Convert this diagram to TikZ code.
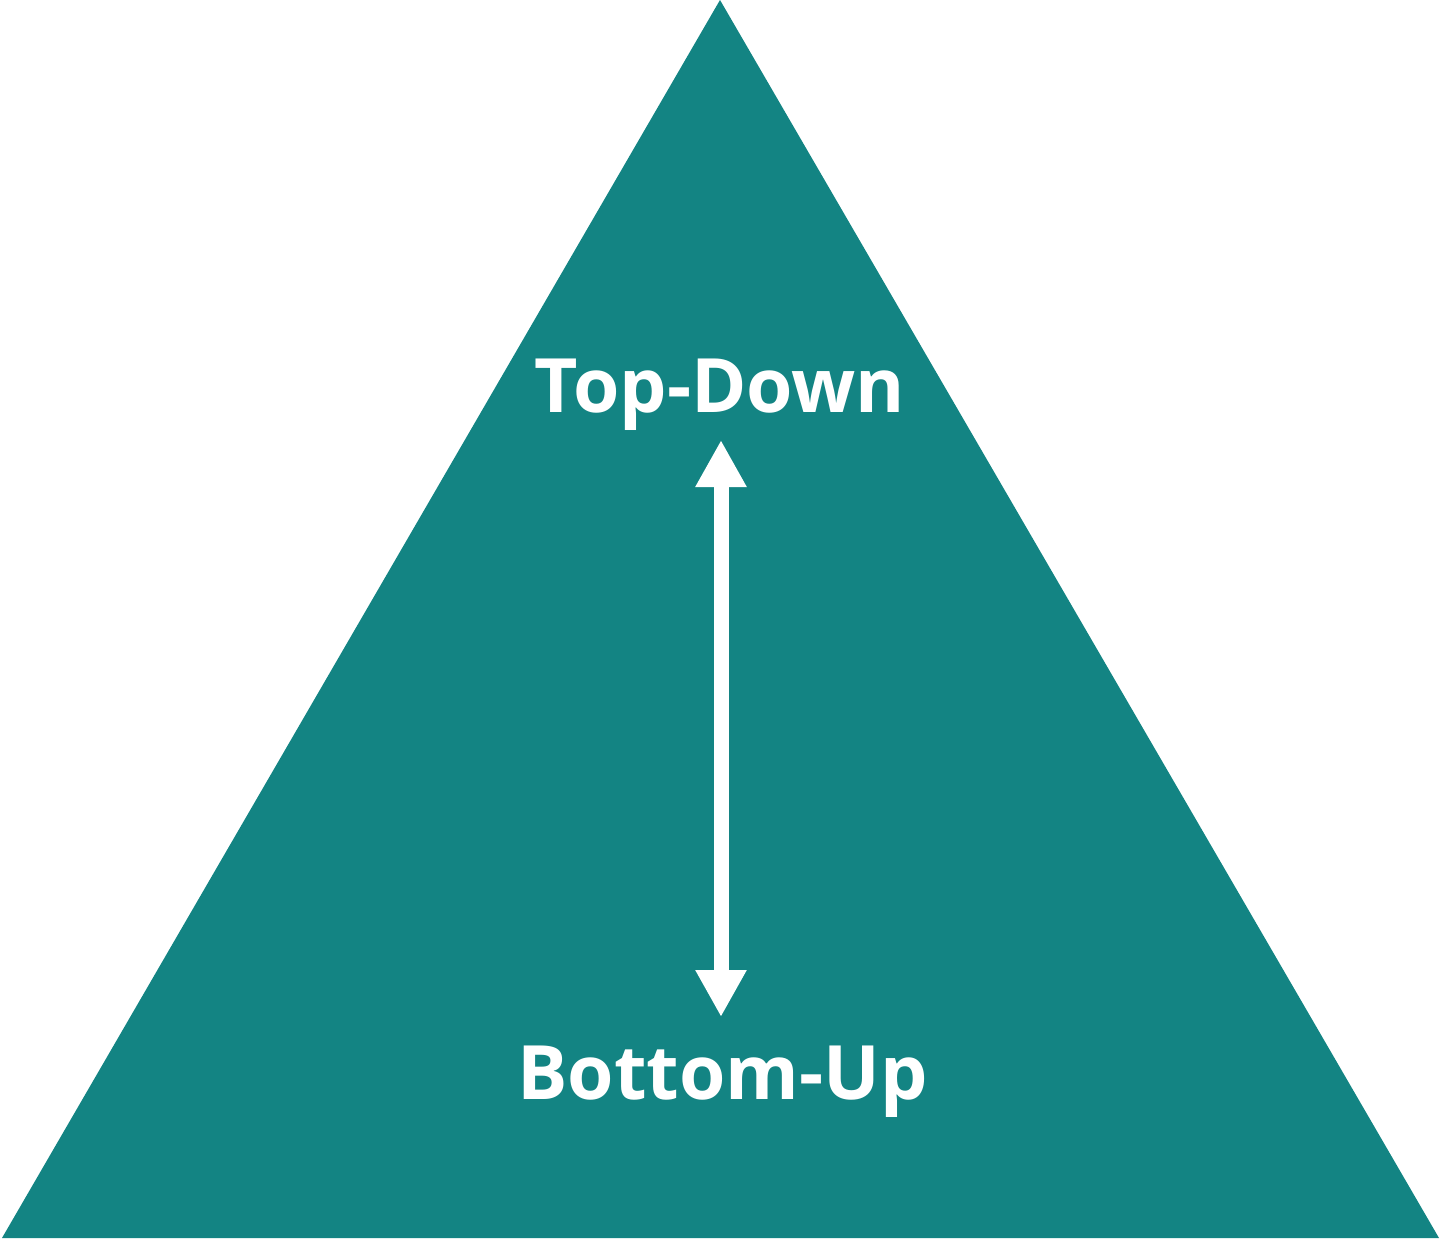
\documentclass[tikz,border=0pt]{standalone}
\usepackage{fontspec}
\setmainfont{Open Sans}
\usetikzlibrary{arrows.meta}
\definecolor{pyrteal}{RGB}{19,132,131}

\begin{document}
\begin{tikzpicture}[x=1pt,y=-1pt,
  lbl/.style={anchor=base,text=white,inner sep=0pt,font=\bfseries\fontsize{75}{80}\selectfont}]
\path[use as bounding box] (0,0) rectangle (1441,1239);
\fill[pyrteal] (720,0)--(1439,1238)--(2,1238)--cycle;
\node[lbl] (top) at (720,412) {Top-Down};
\node[lbl] (bot) at (722.5,1099) {Bottom-Up};
\coordinate (uptip) at (721,440);
\coordinate (dntip) at (721,1017);
\draw[white,line width=15pt,{Triangle[width=48pt,length=47pt]}-{Triangle[width=48pt,length=47pt]}] (uptip)--(dntip);
\end{tikzpicture}
\end{document}
